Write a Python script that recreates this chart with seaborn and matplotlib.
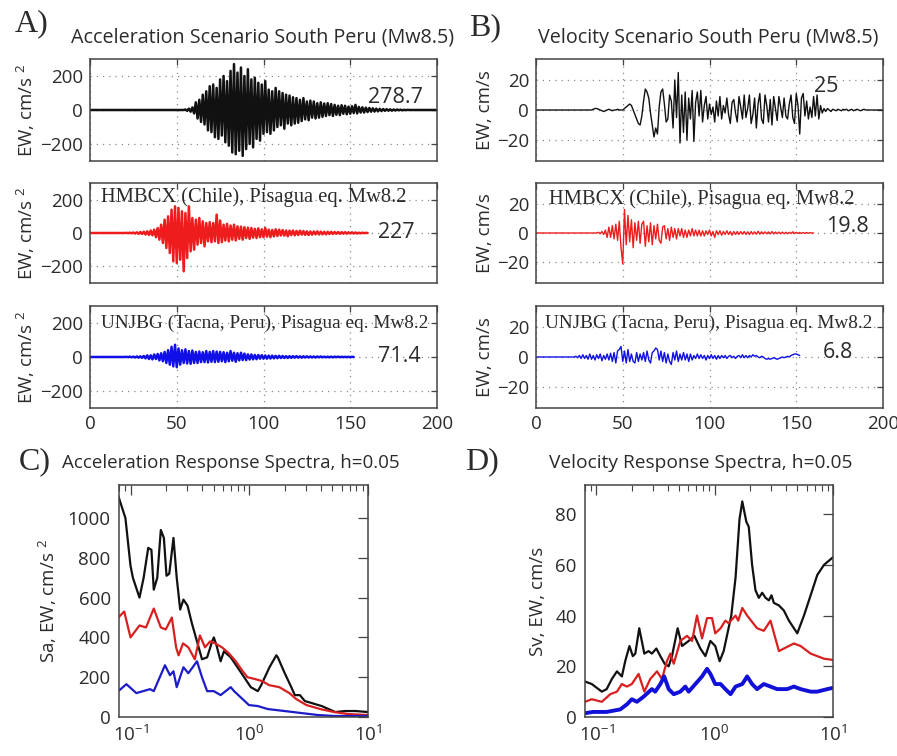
import numpy as np
import pandas as pd
import matplotlib
matplotlib.use("Agg")
import matplotlib.pyplot as plt
import seaborn as sns
from matplotlib.ticker import LogLocator, NullFormatter

# ---------------- data ----------------
# Time series sampled every 1 s, starting at *_start (zero before that)
acc_scen_start = 54
acc_scen = [0, 3, -5, 8, -10, 15, -20,
            45, -50, 60, -70, 90, -85, 110, -120, 140, -130,
            150, -160, 130, -170, 180, -150, 200, -190, 170, -210,
            230, -250, 270, -260, 220, -240, 250, -270, 200, -230,
            240, -200, 180, -220, 190, -170, 160, -180, 150, -140,
            170, -130, 120, -140, 110, -120, 130, -100, 110, -90,
            100, -110, 90, -80, 85, -90, 75, -80, 70, -75,
            60, -65, 70, -55, 50, -60, 55, -45, 50, -50,
            40, -45, 45, -40, 38, -35, 40, -30, 35, -35,
            30, -28, 25, -30, 28, -22, 25, -25, 20, -22,
            22, -18, 30, -20, 18, -15, 16, -15, 14, -12,
            12, -10, 10, -9, 8, -8, 7, -6, 6, -5,
            5, -4, 4, -4, 3, -3, 3, -2, 2, -2, 1, -1, 1, 0]
acc_scen_end = 200

acc_hmb_start = 20
acc_hmb = [0, 1, -1, 2, -2, 3, -3, 4, -5, 6,
           -6, 8, -9, 10, -12, 15, -14, 20, -25, 30,
           -40, 50, -60, 80, -90, 100, -120, 140, -170, 160,
           -180, 150, -160, 130, -230, 120, -150, 160, -110, 90,
           -100, 80, -70, 90, -60, 70, -80, 60, -50, 65,
           -55, 60, -50, 110, -60, 75, -55, 50, -45, 55,
           -50, 45, -40, 50, -45, 40, -35, 38, -40, 35,
           -30, 32, -35, 30, -28, 25, -30, 28, -25, 22,
           -25, 30, -22, 20, -25, 18, -20, 22, -18, 20,
           -15, 18, -16, 15, -20, 14, -12, 15, -14, 12,
           -12, 14, -10, 12, -11, 10, -12, 9, -10, 9,
           -8, 10, -9, 8, -8, 7, -8, 7, -6, 7,
           -6, 6, -5, 6, -5, 5, -4, 5, -4, 4,
           -3, 4, -3, 3, -3, 2, -2, 2, -1, 1, 0]

acc_unj_start = 20
acc_unj = [0, 1, -1, 2, -2, 2, -3, 3, -4, 4,
           -5, 6, -8, 10, -12, 10, -14, 15, -12, 18,
           -20, 22, -25, 30, -35, 40, -45, 60, -55, 72,
           -60, 50, -45, 40, -35, 45, -38, 35, -40, 38,
           -35, 30, -35, 32, -30, 28, -30, 35, -32, 30,
           -28, 35, -30, 32, -28, 30, -25, 28, -30, 25,
           -25, 35, -22, 25, -28, 22, -20, 25, -18, 20,
           -18, 16, -15, 15, -14, 12, -13, 12, -10, 11,
           -10, 9, -10, 8, -9, 8, -8, 7, -7, 7,
           -6, 6, -6, 5, -6, 5, -5, 5, -4, 5,
           -4, 4, -4, 4, -3, 4, -3, 3, -3, 3,
           -3, 3, -2, 3, -2, 2, -2, 2, -2, 2,
           -2, 2, -1, 2, -1, 1, -1, 1, -1, 1, -1, 1, 0]

vel_scen_start = 30
vel_scen = [0, 0, 0, 0.5, 1, 1, 0.5, 0, -0.5, -1, -0.5, 0, 0.5, 0, -0.5, 0, 0, 0.5, 0, 0,
            0, 1, 2, 3, 4, 3, 0, -3, -6, -9,
            -10, -4, 6, 14, 12, 8, -2, -10, -18, -12,
            -16, 2, 12, 14, 4, -8, -6, 10, 6, -12,
            20, -5, 25, -22, 10, -15, 12, -20, 8, -6,
            13, -21, 5, 12, -4, 13, -8, 3, 9, -6,
            4, -3, 2, -8, 6, -4, 9, -6, 3, -2,
            8, -3, -9, 5, 7, -2, -8, 9, 2, -6,
            10, -5, 1, 10, -9, -3, 8, -12, 4, 11,
            -6, -9, 10, 3, -8, 7, -10, 9, 1, -7,
            9, 2, -5, 8, -4, -6, 4, 10, -5, -9,
            11, 3, -16, 8, 11, -4, 6, -6, 2, -5,
            9, -4, 10, -6, 3, -2, 1, -1, 1, 0,
            -1, 0.5, 0, -0.5, 0.5, 0, -0.5, 0.5, 0, 0.5,
            -0.5, 0, 0.5, -0.5, 0, 0.5, 0, -0.5, 0, 0.5, 0]
vel_scen_end = 200

vel_hmb_start = 35
vel_hmb = [0, 0.5, -0.5, 1, -1, 2, -3, 4, -3, 5,
           -4, 6, -5, 8, -10, -21, 16, -8, 12, -6,
           9, -10, 7, -5, 8, -7, 6, 8, -9, 5,
           -6, 7, -8, 5, -4, 6, -5, -7, 4, 5,
           -4, 3, -5, 4, -3, 3, -4, 3, -2, 3,
           -3, 2, -3, 2, -2, 3, -2, 2, -2, 2,
           -2, 1.5, -2, 1.5, -1, 2, -2, 1, -3, 1.5,
           -1, 1.5, -1.5, 1, -1, 1.5, -1, 1, -1.5, 1,
           -1, 1, -1, 1, -0.8, 1, -1, 0.8, -1, 1,
           -0.8, 0.8, -0.8, 1.2, -0.8, 0.8, -0.6, 0.8, -0.6, 0.7,
           -0.6, 1, -0.6, 0.6, -0.5, 0.6, -0.5, 0.6, -0.5, 0.5,
           -0.5, 0.5, -0.4, 0.8, -0.4, 0.4, -0.3, 0.4, -0.3, 0.3, -0.2, 0.3, -0.2, 0.2, 0, 0]

vel_unj_start = 22
vel_unj = [0, 0.5, -0.5, 1, -1, 1.5, -1, 1, -1.5, 2,
           -1.5, 1, -2, 1.5, -1, 2, -2.5, 1, -1.5, 2,
           -2, 2.5, -3, 3, -4, 4, 5, 7, -3, 4,
           -4, 5, -3, 2, -3, -4, 3, -3, 2, -2,
           3, -3, 4, -2, -4, 3, 4, 6, 5, -2,
           4, -3, 3, -4, 2, -3, -5, 3, -2, 4,
           -3, 2, -2, 3, -2, 2, -3, 2, -2, 1,
           -1, 2, -1, 1.5, -1, 1, -2, 1, -1, 1.5,
           -1, 1, -1.5, 1, -1, 1, -0.5, 1, -1, 0.5,
           1, -0.5, 0.5, -1, 0.5, 1, -0.5, 1.5, -0.5, 1,
           -0.5, 1, 0, 1.5, 0.5, 1, 0, -0.5, 0.5, 0,
           -1, -1.5, -1, -1.5, -1, -0.5, -1, -1.5, -1, -0.5,
           0, -0.5, 0, 0.5, 0, 1, 1.5, 2, 2, 1.5, 1]

peaks = {"acc_scen": "278.7", "acc_hmb": "227", "acc_unj": "71.4",
         "vel_scen": "25", "vel_hmb": "19.8", "vel_unj": "6.8"}

# Response spectra (period s, value)
sa_per_scen = [0.079, 0.0906, 0.100, 0.1047, 0.119, 0.129, 0.141, 0.150, 0.157, 0.168, 0.180,
               0.191, 0.201, 0.212, 0.230, 0.245, 0.262, 0.279, 0.302, 0.329, 0.363, 0.400,
               0.442, 0.487, 0.503, 0.530, 0.574, 0.612, 0.698, 0.796, 0.906, 1.03, 1.18,
               1.26, 1.48, 1.69, 1.74, 1.99, 2.26, 2.42, 2.67, 2.94, 3.36, 3.82, 4.08, 4.65,
               5.30, 6.45, 7.85, 10.0]
sa_scen = [1110, 1000, 760, 700, 600, 700, 850, 840, 640, 700, 940,
           900, 710, 720, 900, 700, 540, 590, 560, 470, 380, 290,
           300, 380, 400, 360, 280, 330, 300, 250, 200, 150, 130,
           160, 250, 310, 300, 220, 150, 110, 110, 80, 70, 60, 55, 40,
           25, 30, 30, 25]
sa_per_hmb = [0.079, 0.0885, 0.100, 0.119, 0.135, 0.157, 0.180, 0.198, 0.223, 0.242, 0.254,
              0.277, 0.307, 0.348, 0.384, 0.424, 0.468, 0.516, 0.590, 0.674, 0.770, 0.880,
              0.966, 1.13, 1.29, 1.47, 1.79, 2.18, 2.49, 3.03, 3.96, 5.17, 6.74, 10.0]
sa_hmb = [500, 530, 400, 460, 450, 545, 450, 440, 500, 350, 310,
          370, 350, 290, 410, 350, 380, 370, 350, 320, 280, 230,
          200, 190, 180, 160, 150, 120, 90, 60, 40, 25, 15, 10]
sa_per_unj = [0.079, 0.0923, 0.112, 0.146, 0.157, 0.195, 0.215, 0.230, 0.245, 0.279, 0.307,
              0.363, 0.400, 0.442, 0.503, 0.574, 0.698, 0.745, 0.994, 1.18, 1.43, 1.98,
              2.74, 3.79, 5.25, 10.0]
sa_unj = [130, 165, 120, 140, 130, 260, 210, 230, 150, 250, 220,
          280, 200, 130, 130, 110, 150, 130, 60, 55, 40, 30,
          20, 10, 5, 5]

sv_per_scen = [0.080, 0.0913, 0.111, 0.122, 0.135, 0.149, 0.164, 0.175, 0.190, 0.203, 0.213,
               0.230, 0.254, 0.276, 0.294, 0.321, 0.347, 0.377, 0.408, 0.435, 0.486, 0.529,
               0.602, 0.673, 0.756, 0.834, 0.919, 1.01, 1.10, 1.19, 1.38, 1.50, 1.62, 1.71,
               1.85, 1.94, 2.07, 2.21, 2.36, 2.52, 2.69, 2.87, 3.02, 3.16, 3.49, 3.84, 4.24,
               4.99, 5.68, 6.47, 7.36, 8.39, 10.0]
sv_scen = [14, 13, 10, 11, 15, 18, 16, 22, 28, 24, 25,
           35, 25, 26, 25, 27, 24, 21, 20, 24, 35, 28,
           30, 32, 27, 24, 30, 28, 22, 26, 40, 55, 78, 85,
           77, 75, 60, 50, 47, 49, 47, 46, 48, 45, 44, 42, 38,
           33, 40, 48, 56, 60, 63]
sv_per_hmb = [0.080, 0.0913, 0.111, 0.131, 0.149, 0.164, 0.181, 0.199, 0.227, 0.254, 0.285,
              0.325, 0.358, 0.394, 0.421, 0.450, 0.512, 0.583, 0.643, 0.708, 0.781, 0.861,
              0.949, 1.01, 1.12, 1.23, 1.31, 1.50, 1.58, 1.71, 1.88, 2.28, 2.60, 2.96,
              3.49, 3.84, 4.67, 5.32, 6.47, 8.39, 10.0]
sv_hmb = [6, 7, 6, 9, 10, 13, 12, 13, 17, 10, 15,
          18, 15, 22, 25, 21, 30, 32, 30, 40, 31, 39,
          39, 33, 35, 38, 37, 40, 38, 43, 40, 35, 34, 38,
          26, 27, 29, 28, 25, 23, 22.5]
sv_per_unj = [0.080, 0.0935, 0.122, 0.159, 0.181, 0.199, 0.220, 0.250, 0.294, 0.314, 0.347,
              0.374, 0.408, 0.450, 0.512, 0.564, 0.602, 0.686, 0.781, 0.861, 0.919, 1.01,
              1.12, 1.23, 1.36, 1.50, 1.71, 1.88, 2.07, 2.28, 2.60, 2.96, 3.37, 4.10,
              4.67, 5.32, 6.47, 7.36, 8.95, 10.0]
sv_unj = [1.5, 2, 2, 3, 5, 7, 6, 8, 11, 10, 13,
          16, 11, 9, 10, 12, 10, 13, 16, 19, 17, 13,
          13, 11, 9, 12, 13, 16, 13, 11, 13, 12, 11, 11,
          12, 11, 10, 10, 11, 11.5]

station_hmb = "HMBCX (Chile), Pisagua eq. Mw8.2"
station_unj = "UNJBG (Tacna, Peru), Pisagua eq. Mw8.2"

# ---------------- style ----------------
sns.set_style("white")
SANS = ['Open Sans', 'DejaVu Sans']
SERIF = ['Liberation Serif', 'DejaVu Serif']
plt.rcParams['font.family'] = SANS
plt.rcParams['mathtext.fontset'] = 'custom'
plt.rcParams['mathtext.rm'] = 'Open Sans'
plt.rcParams['mathtext.it'] = 'Open Sans:italic'
plt.rcParams['axes.unicode_minus'] = True

BLACK = '#111111'
RED = '#ee1c1c'
BLUE = '#1010e6'
SPINE = '#444444'
TXT = '#2b2b2b'

W, H = 897, 756
fig = plt.figure(figsize=(W / 100, H / 100), dpi=100)


def box(l, t, r, b):
    return [l / W, 1 - b / H, (r - l) / W, (b - t) / H]


def series(start, vals, end=None):
    x = np.concatenate([[0], start + np.arange(len(vals))])
    y = np.concatenate([[0], np.asarray(vals, float)])
    if end is not None:
        x = np.concatenate([x, [end]])
        y = np.concatenate([y, [0]])
    return pd.DataFrame({"t": x, "v": y})


def style_ts(ax, ylim, yticks, show_x):
    ax.set_xlim(0, 200)
    ax.set_ylim(*ylim)
    ax.set_xticks([0, 50, 100, 150, 200])
    ax.set_yticks(yticks)
    ax.grid(True, linestyle=(0, (1, 4)), color='#8a8a8a', lw=0.9)
    ax.tick_params(direction='in', top=True, right=True, length=4, width=0.9,
                   labelsize=13.5, colors=SPINE, labelcolor=TXT, pad=5)
    if not show_x:
        ax.set_xticklabels([])
    for s in ax.spines.values():
        s.set_color(SPINE)
        s.set_linewidth(1.1)
    ax.set_xlabel("")


rows = [(59, 161), (183, 283), (306, 408)]
colsx = [(90, 437), (536, 883)]

acc_data = [(acc_scen_start, acc_scen, acc_scen_end, BLACK, "acc_scen", None),
            (acc_hmb_start, acc_hmb, None, RED, "acc_hmb", station_hmb),
            (acc_unj_start, acc_unj, None, BLUE, "acc_unj", station_unj)]
vel_data = [(vel_scen_start, vel_scen, vel_scen_end, BLACK, "vel_scen", None),
            (vel_hmb_start, vel_hmb, None, RED, "vel_hmb", station_hmb),
            (vel_unj_start, vel_unj, None, BLUE, "vel_unj", station_unj)]

num_pos_acc = [(160, 76), (166, 0), (166, 0)]
num_pos_vel = [(160, 16), (167, 4.7), (165, 3.3)]
stn_pos_acc = [None, (6.3, 218), (6.3, 200)]
stn_pos_vel = [None, (7.5, 23), (5.2, 22.7)]
stn_size = [None, 14.8, 13.9]

for ci, (data, ylim, yticks, ylabel, npos, spos, lw) in enumerate([
        (acc_data, (-300, 300), [-200, 0, 200], 'EW, cm/s $^2$', num_pos_acc, stn_pos_acc, 1.8),
        (vel_data, (-34, 34), [-20, 0, 20], 'EW, cm/s', num_pos_vel, stn_pos_vel, 1.0)]):
    l, r = colsx[ci]
    for ri, (start, vals, end, col, key, stn) in enumerate(data):
        t, b = rows[ri]
        ax = fig.add_axes(box(l, t, r, b))
        df = series(start, vals, end)
        sns.lineplot(data=df, x="t", y="v", ax=ax, color=col, lw=lw,
                     estimator=None, sort=False)
        style_ts(ax, ylim, yticks, ri == 2)
        ax.set_ylabel(ylabel, fontsize=13.5, color=TXT, labelpad=2)
        ax.text(npos[ri][0], npos[ri][1], peaks[key], fontsize=15.5, color=TXT,
                ha='left', va='center')
        if stn is not None:
            ax.text(spos[ri][0], spos[ri][1], stn, fontsize=stn_size[ri], family=SERIF,
                    color=TXT, ha='left', va='center')

# titles and panel letters
fig.text(263 / W, 1 - 38 / H, "Acceleration Scenario South Peru (Mw8.5)",
         ha='center', va='center', fontsize=14.2, color=TXT)
fig.text(708 / W, 1 - 38 / H, "Velocity Scenario South Peru (Mw8.5)",
         ha='center', va='center', fontsize=14.2, color=TXT)
fig.text(15 / W, 1 - 24 / H, "A)", family=SERIF, fontsize=23, ha='left', va='center', color=TXT)
fig.text(469 / W, 1 - 28 / H, "B)", family=SERIF, fontsize=23, ha='left', va='center', color=TXT)
fig.text(19 / W, 1 - 462 / H, "C)", family=SERIF, fontsize=23, ha='left', va='center', color=TXT)
fig.text(465 / W, 1 - 462 / H, "D)", family=SERIF, fontsize=23, ha='left', va='center', color=TXT)
fig.text(62 / W, 1 - 463 / H, "Acceleration Response Spectra, h=0.05",
         ha='left', va='center', fontsize=13.5, color=TXT)
fig.text(549 / W, 1 - 463 / H, "Velocity Response Spectra, h=0.05",
         ha='left', va='center', fontsize=13.8, color=TXT)


def style_sp(ax, ylim, yticks, ylabel):
    ax.set_xscale('log')
    ax.set_xlim(0.08, 10)
    ax.set_ylim(*ylim)
    ax.set_yticks(yticks)
    ax.set_xticks([0.1, 1, 10])
    ax.xaxis.set_minor_locator(LogLocator(base=10, subs=np.arange(2, 10)))
    ax.xaxis.set_minor_formatter(NullFormatter())
    ax.tick_params(which='major', direction='in', top=True, right=True, length=7, width=0.9,
                   labelsize=13.5, colors=SPINE, labelcolor=TXT, pad=6)
    ax.tick_params(which='minor', direction='in', top=True, right=False, length=4, width=0.8,
                   colors=SPINE)
    for s in ax.spines.values():
        s.set_color(SPINE)
        s.set_linewidth(1.1)
    ax.set_xlabel("")
    ax.set_ylabel(ylabel, fontsize=13.5, color=TXT, labelpad=6)


axc = fig.add_axes(box(119, 485, 368, 717))
for per, val, col, lw in [(sa_per_scen, sa_scen, BLACK, 1.6),
                          (sa_per_hmb, sa_hmb, '#d91f1f', 1.6),
                          (sa_per_unj, sa_unj, '#1c1cc8', 1.6)]:
    sns.lineplot(x=per, y=val, ax=axc, color=col, lw=lw, estimator=None, sort=False)
style_sp(axc, (0, 1166), [0, 200, 400, 600, 800, 1000], 'Sa, EW, cm/s $^2$')

axd = fig.add_axes(box(585, 485, 833, 717))
for per, val, col, lw in [(sv_per_scen, sv_scen, BLACK, 1.6),
                          (sv_per_hmb, sv_hmb, '#d91f1f', 1.6),
                          (sv_per_unj, sv_unj, '#1010d8', 2.8)]:
    sns.lineplot(x=per, y=val, ax=axd, color=col, lw=lw, estimator=None, sort=False)
style_sp(axd, (0, 91.5), [0, 20, 40, 60, 80], 'Sv, EW, cm/s')

fig.savefig("out.png", dpi=100, facecolor='white')
